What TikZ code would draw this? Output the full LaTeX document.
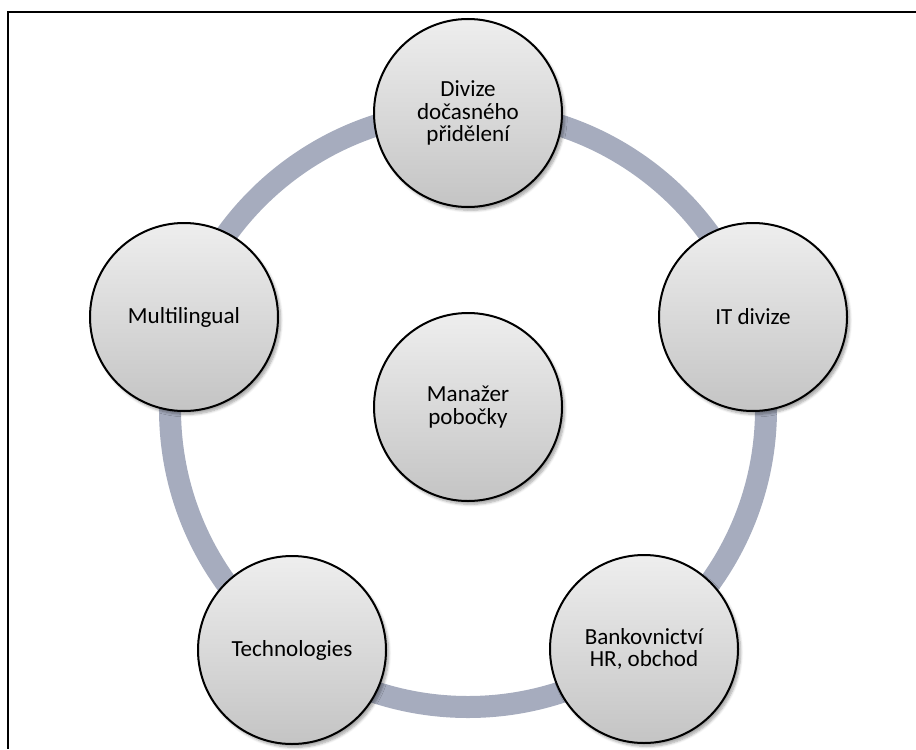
\documentclass[tikz,border=0pt]{standalone}
\usepackage{fontspec}
\setmainfont{Carlito}
\usetikzlibrary{shadows.blur}
\definecolor{ringc}{RGB}{166,172,190}
\definecolor{topc}{RGB}{238,238,238}
\definecolor{botc}{RGB}{196,196,196}
\tikzset{
  bubble/.style={circle, draw=black, line width=1.5pt, minimum size=141pt, inner sep=0pt,
    top color=topc, bottom color=botc, align=center,
    font=\fontsize{17.3}{17}\selectfont,
    blur shadow={shadow xshift=2pt, shadow yshift=-2.5pt, shadow blur steps=6, shadow opacity=35}},
  ring/.style={draw=ringc, line width=16.5pt},
  frame/.style={draw=black, line width=1.6pt}
}
\begin{document}
\begin{tikzpicture}[x=0.75pt,y=-0.75pt]
\useasboundingbox (0,0) rectangle (916,749);
\draw[frame] (916,12) -- (8,12) -- (8,749);
\coordinate (ctr) at (468,409);
\draw[ring] (ctr) circle[radius=298];
\node[bubble] (top) at (468,113) {Divize\\dočasného\\přidělení};
\node[bubble] (right) at (753,317) {IT divize};
\node[bubble] (br) at (644,649) {Bankovnictví\\HR, obchod};
\node[bubble] (bl) at (292,650) {Technologies};
\node[bubble] (left) at (184,317) {Multilingual};
\node[bubble] (mid) at (468,407) {Manažer\\pobočky};
\end{tikzpicture}
\end{document}
